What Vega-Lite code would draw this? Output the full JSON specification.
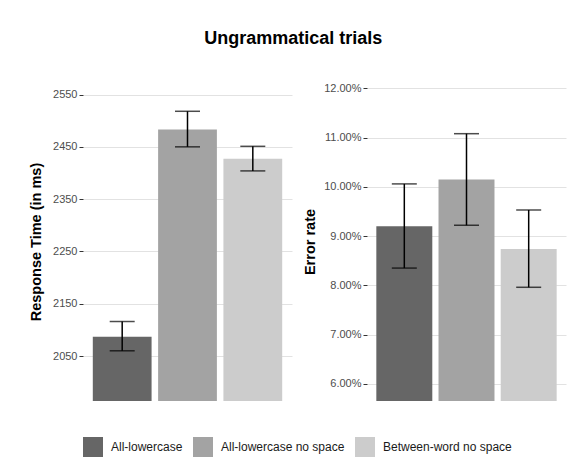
{
  "$schema": "https://vega.github.io/schema/vega-lite/v6.json",
  "padding": {"left": 28, "top": 30, "right": 15, "bottom": 10},
  "background": "white",
  "title": {"text": "Ungrammatical trials", "fontSize": 18, "font": "Liberation Sans", "fontWeight": "bold", "anchor": "middle", "offset": 34, "dx": -4, "color": "#000000"},
  "datasets": {
    "d": [
      {"condition": "All-lowercase", "rt": 2087, "rt_lo": 2060, "rt_hi": 2116, "err": 0.0920, "err_lo": 0.0835, "err_hi": 0.1006},
      {"condition": "All-lowercase no space", "rt": 2483, "rt_lo": 2450, "rt_hi": 2518, "err": 0.1015, "err_lo": 0.0922, "err_hi": 0.1108},
      {"condition": "Between-word no space", "rt": 2427, "rt_lo": 2404, "rt_hi": 2451, "err": 0.0874, "err_lo": 0.0796, "err_hi": 0.0953}
    ]
  },
  "data": {"name": "d"},
  "spacing": 10,
  "hconcat": [
    {
      "width": 209,
      "height": 319,
      "layer": [
        {
          "mark": {"type": "bar", "clip": true},
          "encoding": {
            "x": {"field": "condition", "type": "nominal", "sort": null, "axis": null, "scale": {"paddingInner": 0.1, "paddingOuter": 0.15}},
            "y": {"field": "rt", "type": "quantitative", "title": "Response Time (in ms)", "scale": {"domain": [1964, 2574], "zero": false, "nice": false}, "axis": {"values": [2050, 2150, 2250, 2350, 2450, 2550], "format": "d", "titlePadding": 9}},
            "color": {"field": "condition", "type": "nominal", "scale": {"domain": ["All-lowercase", "All-lowercase no space", "Between-word no space"], "range": ["#666666", "#a3a3a3", "#cccccc"]},
              "legend": {"orient": "bottom", "direction": "horizontal", "title": null, "symbolType": "square", "symbolSize": 400, "labelFontSize": 12, "labelOffset": 8, "columnPadding": 10, "offset": 36, "symbolStrokeWidth": 0, "padding": 0, "labelColor": "#1a1a1a"}}
          }
        },
        {
          "mark": {"type": "rule", "color": "black", "strokeWidth": 1.5},
          "encoding": {
            "x": {"field": "condition", "type": "nominal", "sort": null},
            "y": {"field": "rt_lo", "type": "quantitative", "title": "Response Time (in ms)"},
            "y2": {"field": "rt_hi"}
          }
        },
        {
          "mark": {"type": "tick", "color": "black", "thickness": 1.5, "size": 25, "orient": "horizontal"},
          "encoding": {
            "x": {"field": "condition", "type": "nominal", "sort": null},
            "y": {"field": "rt_lo", "type": "quantitative", "title": "Response Time (in ms)"}
          }
        },
        {
          "mark": {"type": "tick", "color": "black", "thickness": 1.5, "size": 25, "orient": "horizontal"},
          "encoding": {
            "x": {"field": "condition", "type": "nominal", "sort": null},
            "y": {"field": "rt_hi", "type": "quantitative", "title": "Response Time (in ms)"}
          }
        }
      ]
    },
    {
      "width": 199,
      "height": 319,
      "layer": [
        {
          "mark": {"type": "bar", "clip": true},
          "encoding": {
            "x": {"field": "condition", "type": "nominal", "sort": null, "axis": null, "scale": {"paddingInner": 0.1, "paddingOuter": 0.15}},
            "y": {"field": "err", "type": "quantitative", "title": "Error rate", "scale": {"domain": [0.0565, 0.1213], "zero": false, "nice": false}, "axis": {"values": [0.06, 0.07, 0.08, 0.09, 0.10, 0.11, 0.12], "format": ".2%", "titlePadding": 6}},
            "color": {"field": "condition", "type": "nominal", "scale": {"domain": ["All-lowercase", "All-lowercase no space", "Between-word no space"], "range": ["#666666", "#a3a3a3", "#cccccc"]},
              "legend": {"orient": "bottom", "direction": "horizontal", "title": null, "symbolType": "square", "symbolSize": 400, "labelFontSize": 12, "labelOffset": 8, "columnPadding": 10, "offset": 36, "symbolStrokeWidth": 0, "padding": 0, "labelColor": "#1a1a1a"}}
          }
        },
        {
          "mark": {"type": "rule", "color": "black", "strokeWidth": 1.5},
          "encoding": {
            "x": {"field": "condition", "type": "nominal", "sort": null},
            "y": {"field": "err_lo", "type": "quantitative", "title": "Error rate"},
            "y2": {"field": "err_hi"}
          }
        },
        {
          "mark": {"type": "tick", "color": "black", "thickness": 1.5, "size": 25, "orient": "horizontal"},
          "encoding": {
            "x": {"field": "condition", "type": "nominal", "sort": null},
            "y": {"field": "err_lo", "type": "quantitative", "title": "Error rate"}
          }
        },
        {
          "mark": {"type": "tick", "color": "black", "thickness": 1.5, "size": 25, "orient": "horizontal"},
          "encoding": {
            "x": {"field": "condition", "type": "nominal", "sort": null},
            "y": {"field": "err_hi", "type": "quantitative", "title": "Error rate"}
          }
        }
      ]
    }
  ],
  "config": {
    "font": "Liberation Sans",
    "view": {"stroke": null},
    "axis": {"domain": false, "grid": true, "gridColor": "#e2e2e2", "gridWidth": 1, "tickColor": "#333333", "tickSize": 4, "tickWidth": 1, "labelColor": "#4d4d4d", "labelFontSize": 11, "labelPadding": 2, "titleFontSize": 14.5, "titleFontWeight": "bold", "titleColor": "#000000"},
    "legend": {"layout": {"bottom": {"anchor": "middle"}}}
  }
}
